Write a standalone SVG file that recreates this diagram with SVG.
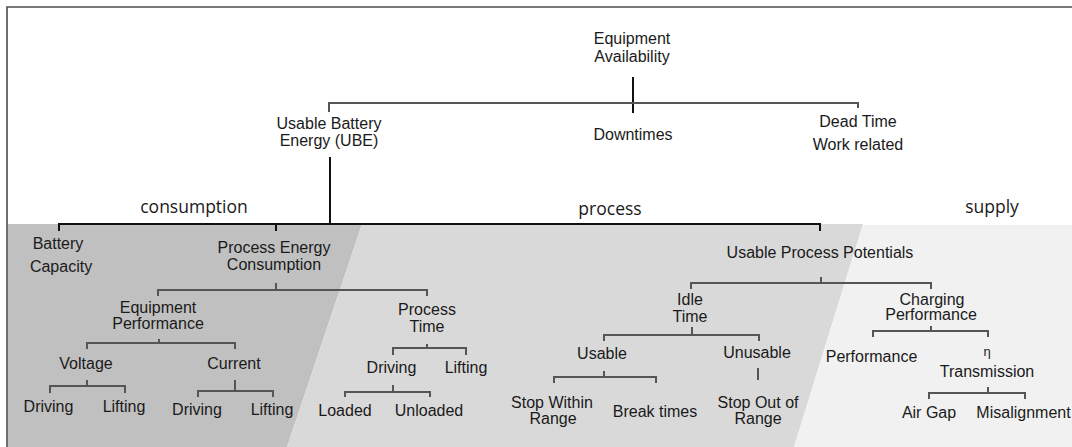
<svg xmlns="http://www.w3.org/2000/svg" width="1072" height="447" viewBox="0 0 1072 447">
  <style>
    .t { font-family: "Liberation Sans", Arial, sans-serif; font-size: 16px; fill: #1a1a1a; text-anchor: middle; }
    .band { font-family: "Open Sans", "Liberation Sans", sans-serif; font-size: 17.5px; fill: #1a1a1a; text-anchor: middle; }
    .br { fill: none; stroke: #555555; stroke-width: 2; }
    .main { fill: none; stroke: #111111; stroke-width: 2; }
  </style>

  <!-- background and frame -->
  <rect x="0" y="0" width="1072" height="447" fill="#ffffff"/>

  <!-- shaded bands: consumption / process / supply -->
  <g id="bands">
    <polygon points="8,224 362,224 287,447 8,447" fill="#c0c0c0"/>
    <polygon points="362,224 863,224 794,447 287,447" fill="#d9d9d9"/>
    <polygon points="863,225 1072,225 1072,447 794,447" fill="#f1f1f1"/>
  </g>

  <path d="M7,447 V7 H1072" fill="none" stroke="#4d4d4d" stroke-width="1.6"/>

  <!-- connectors -->
  <g id="connectors">
    <path class="main" d="M633,77 V113"/>
    <path class="br" d="M329,112 V103 H858 V108"/>
    <path class="main" d="M330,157 V224"/>
    <path class="main" d="M59,231 V224 H820 V231 M276,224 V231" stroke="#333333"/>
    <path class="br" d="M276,283 V290 M158,296 V290 H427 V296"/>
    <path class="br" d="M159,339 V343 M87,349 V343 H235 V349"/>
    <path class="br" d="M87,380 V386 M50,393 V386 H125 V393"/>
    <path class="br" d="M235,380 V391 M198,397 V391 H273 V397"/>
    <path class="br" d="M427,344 V348 M393,355 V348 H466 V355"/>
    <path class="br" d="M393,385 V392 M345,397 V392 H430 V397"/>
    <path class="br" d="M821,277 V283 M691,289 V283 H931 V289"/>
    <path class="br" d="M692,327 V335 M604,341 V335 H759 V341"/>
    <path class="br" d="M604,371 V377 M554,383 V377 H656 V383"/>
    <path class="br" d="M758,368 V380"/>
    <path class="br" d="M931,326 V331 M873,337 V331 H988 V337"/>
    <path class="br" d="M988,387 V393 M929,399 V393 H1025 V399"/>
  </g>

  <!-- band labels -->
  <g id="band-labels">
    <text class="band" x="194" y="213">consumption</text>
    <text class="band" x="610" y="215">process</text>
    <text class="band" x="992" y="213">supply</text>
  </g>

  <!-- nodes -->
  <g id="equipment-availability"><text class="t" x="632" y="44">Equipment</text><text class="t" x="632" y="62">Availability</text></g>
  <g id="ube"><text class="t" x="329" y="129">Usable Battery</text><text class="t" x="329" y="146">Energy (UBE)</text></g>
  <g id="downtimes"><text class="t" x="633" y="140">Downtimes</text></g>
  <g id="dead-time"><text class="t" x="858" y="127">Dead Time</text><text class="t" x="858" y="150">Work related</text></g>

  <g id="battery-capacity"><text class="t" x="58" y="249">Battery</text><text class="t" x="61" y="272">Capacity</text></g>
  <g id="process-energy"><text class="t" x="274" y="253">Process Energy</text><text class="t" x="274" y="270">Consumption</text></g>
  <g id="equipment-performance"><text class="t" x="158" y="313">Equipment</text><text class="t" x="158" y="329">Performance</text></g>
  <g id="voltage"><text class="t" x="86" y="369">Voltage</text></g>
  <g id="current"><text class="t" x="234" y="369">Current</text></g>
  <g id="voltage-driving"><text class="t" x="48.5" y="412">Driving</text></g>
  <g id="voltage-lifting"><text class="t" x="124" y="412">Lifting</text></g>
  <g id="current-driving"><text class="t" x="197" y="415">Driving</text></g>
  <g id="current-lifting"><text class="t" x="272" y="415">Lifting</text></g>

  <g id="process-time"><text class="t" x="427" y="315">Process</text><text class="t" x="427" y="332">Time</text></g>
  <g id="time-driving"><text class="t" x="391.5" y="373">Driving</text></g>
  <g id="time-lifting"><text class="t" x="466" y="373">Lifting</text></g>
  <g id="loaded"><text class="t" x="345" y="416">Loaded</text></g>
  <g id="unloaded"><text class="t" x="429" y="416">Unloaded</text></g>

  <g id="usable-process-potentials"><text class="t" x="820" y="258">Usable Process Potentials</text></g>
  <g id="idle-time"><text class="t" x="690" y="305">Idle</text><text class="t" x="690" y="322">Time</text></g>
  <g id="usable"><text class="t" x="602" y="359">Usable</text></g>
  <g id="unusable"><text class="t" x="757" y="358">Unusable</text></g>
  <g id="stop-within"><text class="t" x="552" y="408">Stop Within</text><text class="t" x="553" y="424">Range</text></g>
  <g id="break-times"><text class="t" x="655" y="417">Break times</text></g>
  <g id="stop-out"><text class="t" x="758" y="408">Stop Out of</text><text class="t" x="758" y="424">Range</text></g>

  <g id="charging-performance"><text class="t" x="932" y="305">Charging</text><text class="t" x="931" y="320">Performance</text></g>
  <g id="performance"><text class="t" x="871.5" y="362">Performance</text></g>
  <g id="transmission"><text class="t" x="987" y="356" style="font-size:13px">η</text><text class="t" x="987" y="377">Transmission</text></g>
  <g id="air-gap"><text class="t" x="929" y="418">Air Gap</text></g>
  <g id="misalignment"><text class="t" x="1023.5" y="418">Misalignment</text></g>
</svg>
